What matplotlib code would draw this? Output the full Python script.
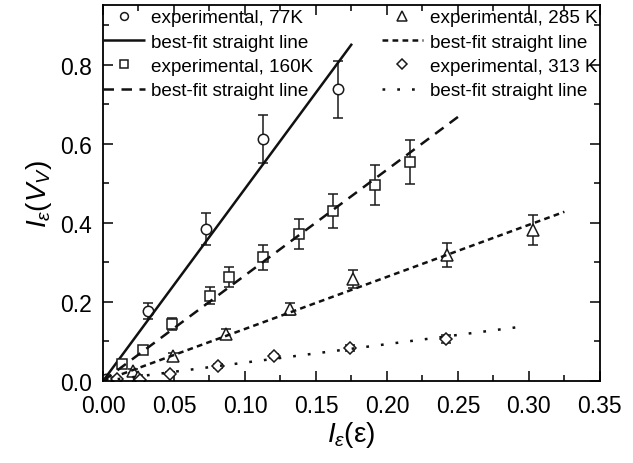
import numpy as np
import matplotlib
matplotlib.use('Agg')
import matplotlib.pyplot as plt

plt.rcParams['font.family'] = 'Liberation Sans'
plt.rcParams['mathtext.fontset'] = 'custom'
plt.rcParams['mathtext.rm'] = 'Liberation Sans'
plt.rcParams['mathtext.it'] = 'Liberation Sans:italic'

# 77 K
x77 = [0.002, 0.0317, 0.0725, 0.1127, 0.1655]
y77 = [0.006, 0.177, 0.384, 0.612, 0.737]
e77 = [0.004, 0.02, 0.04, 0.06, 0.073]
fit77 = [0.0, 0.1754]
slope77 = 4.86

# 160 K
x160 = [0.0134, 0.0282, 0.0487, 0.0754, 0.0889, 0.113, 0.138, 0.162, 0.1915, 0.216]
y160 = [0.043, 0.078, 0.144, 0.216, 0.263, 0.313, 0.372, 0.43, 0.496, 0.554]
e160 = [0.008, 0.008, 0.015, 0.022, 0.025, 0.032, 0.038, 0.043, 0.05, 0.055]
fit160 = [0.0, 0.25]
slope160 = 2.67

# 285 K
x285 = [0.021, 0.025, 0.049, 0.0866, 0.1317, 0.176, 0.242, 0.303]
y285 = [0.025, 0.011, 0.063, 0.119, 0.182, 0.258, 0.319, 0.382]
e285 = [0.005, 0.005, 0.008, 0.012, 0.015, 0.022, 0.03, 0.037]
fit285 = [0.0, 0.325]
slope285 = 1.316

# 313 K
x313 = [0.01, 0.026, 0.047, 0.081, 0.1204, 0.174, 0.2415]
y313 = [0.004, 0.003, 0.018, 0.038, 0.063, 0.083, 0.106]
e313 = [0.003, 0.003, 0.004, 0.005, 0.006, 0.007, 0.01]
fit313 = [0.0, 0.292]
slope313 = 0.466

fig = plt.figure(figsize=(6.33, 4.64), dpi=100)
ax = fig.add_axes([0.1627, 0.1767, 0.785, 0.81])

lw = 1.8
ekw = dict(fmt='none', ecolor='#1a1a1a', elinewidth=1.1, capsize=3.5, capthick=1.1)
mkw = dict(linestyle='none', markerfacecolor='white', markeredgecolor='#1a1a1a',
           markeredgewidth=1.1, markersize=7.5)

ax.errorbar(x77, y77, yerr=e77, **ekw)
ax.errorbar(x160, y160, yerr=e160, **ekw)
ax.errorbar(x285, y285, yerr=e285, **ekw)
ax.errorbar(x313, y313, yerr=e313, **ekw)

h1, = ax.plot(x77, y77, marker='o', **mkw)
f77 = np.array(fit77)
l1, = ax.plot(f77, slope77 * f77, color='#111111', lw=lw, solid_capstyle='butt')
h2, = ax.plot(x160, y160, marker='s', **mkw)
f160 = np.array(fit160)
l2, = ax.plot(f160, slope160 * f160, color='#111111', lw=lw, dashes=(4.2, 3.0))
h3, = ax.plot(x285, y285, marker='^', **dict(mkw, markersize=9))
f285 = np.array(fit285)
l3, = ax.plot(f285, slope285 * f285, color='#111111', lw=lw, dashes=(2.3, 1.7))
h4, = ax.plot(x313, y313, marker='D', **dict(mkw, markersize=6.5))
f313 = np.array(fit313)
l4, = ax.plot(f313, slope313 * f313, color='#111111', lw=lw, dashes=(1.1, 4.8))

ax.set_xlim(0, 0.35)
ax.set_ylim(0, 0.95)
ax.set_xticks(np.arange(0, 0.351, 0.05))
ax.set_xticks(np.arange(0, 0.351, 0.025), minor=True)
ax.set_yticks(np.arange(0, 0.81, 0.2))
ax.set_yticks(np.arange(0, 0.951, 0.1), minor=True)
ax.xaxis.set_major_formatter(matplotlib.ticker.FormatStrFormatter('%.2f'))
ax.yaxis.set_major_formatter(matplotlib.ticker.FormatStrFormatter('%.1f'))
ax.tick_params(which='both', direction='in', top=True, right=True, width=1.1,
               labelsize=16.5)
ax.tick_params(axis='x', pad=9)
ax.tick_params(axis='y', pad=8)
ax.tick_params(which='major', length=7)
ax.tick_params(which='minor', length=4)
for s in ax.spines.values():
    s.set_linewidth(1.3)

ax.set_xlabel(r'$\mathit{I}_{\varepsilon}(\mathrm{\varepsilon})$', fontsize=20, labelpad=2)
ax.set_ylabel(r'$\mathit{I}_{\varepsilon}(\mathit{V}_{V})$', fontsize=20, labelpad=4)

lkw = dict(frameon=False, fontsize=13.6, handlelength=2.2, handletextpad=0.35,
           labelspacing=0.38, borderaxespad=0.0, borderpad=0.0, markerscale=0.75)
leg1 = ax.legend([h1, l1, h2, l2],
                 ['experimental, 77K', 'best-fit straight line',
                  'experimental, 160K', 'best-fit straight line'],
                 loc='upper left', bbox_to_anchor=(0.0, 0.99), **lkw)
ax.add_artist(leg1)
ax.legend([h3, l3, h4, l4],
          ['experimental, 285 K', 'best-fit straight line',
           'experimental, 313 K', 'best-fit straight line'],
          loc='upper right', bbox_to_anchor=(0.995, 0.99), **lkw)

fig.savefig('out.png', dpi=100)
